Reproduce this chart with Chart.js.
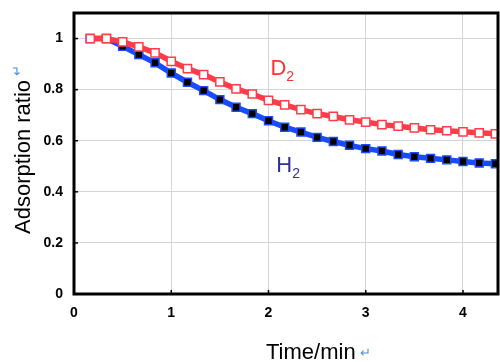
<!DOCTYPE html>
<html>
<head>
<meta charset="utf-8">
<script src="https://cdn.jsdelivr.net/npm/chart.js@4/dist/chart.umd.min.js"></script>
<style>
html,body{margin:0;padding:0;background:#fff;}
#wrap{width:500px;height:362px;position:relative;}
</style>
</head>
<body>
<div id="wrap"><canvas id="c" width="500" height="362"></canvas></div>
<script>
// Time in minutes (one sample every 10 s)
const times = [1/6,2/6,3/6,4/6,5/6,1,7/6,8/6,9/6,10/6,11/6,2,13/6,14/6,15/6,16/6,17/6,3,19/6,20/6,21/6,22/6,23/6,4,25/6,26/6];
const d2Values = [1.0,1.0,0.987,0.967,0.944,0.911,0.882,0.859,0.830,0.803,0.783,0.758,0.740,0.722,0.706,0.695,0.682,0.673,0.663,0.657,0.650,0.643,0.639,0.635,0.631,0.627];
const h2Values = [1.0,1.0,0.970,0.937,0.905,0.865,0.829,0.796,0.761,0.731,0.706,0.678,0.653,0.634,0.613,0.597,0.582,0.569,0.560,0.546,0.537,0.531,0.525,0.519,0.513,0.510];
const xTicks = [0,1,2,3,4];
const yTicks = [0,0.2,0.4,0.6,0.8,1];
const seriesLabels = ['D', 'H'];
const xTitle = 'Time/min';
const yTitle = 'Adsorption ratio';

const FONT = '"Liberation Sans", Arial, Helvetica, sans-serif';

// let the plot area run right up to the frame (no automatic point-overflow padding)
Chart.registry.getController('line').prototype.getMaxOverflow = function () { return 0; };

const pts = (vals) => vals.map((v, i) => ({x: times[i], y: v}));

const decor = {
  id: 'decor',
  afterDraw(chart) {
    const {ctx, chartArea: a, scales} = chart;
    ctx.save();
    // inner tick marks
    ctx.strokeStyle = '#000';
    ctx.lineWidth = 1.5;
    yTicks.forEach(v => {
      const y = scales.y.getPixelForValue(v);
      ctx.beginPath(); ctx.moveTo(a.left, y); ctx.lineTo(a.left + 4, y); ctx.stroke();
    });
    xTicks.forEach(v => {
      const x = scales.x.getPixelForValue(v);
      ctx.beginPath(); ctx.moveTo(x, a.bottom); ctx.lineTo(x, a.bottom - 4); ctx.stroke();
    });
    // frame
    ctx.lineWidth = 3;
    ctx.strokeRect(a.left, a.top, a.right - a.left, a.bottom - a.top);

    // series labels
    const drawSub = (main, x, y, color) => {
      ctx.fillStyle = color;
      ctx.font = '22px ' + FONT;
      ctx.textBaseline = 'alphabetic';
      ctx.textAlign = 'left';
      ctx.fillText(main, x, y);
      const w = ctx.measureText(main).width;
      ctx.font = '14px ' + FONT;
      ctx.fillText('2', x + w, y + 6);
    };
    drawSub(seriesLabels[0], scales.x.getPixelForValue(2.02), scales.y.getPixelForValue(0.857), '#ff3030');
    drawSub(seriesLabels[1], scales.x.getPixelForValue(2.08), scales.y.getPixelForValue(0.477), '#2e3192');

    // x title
    ctx.fillStyle = '#000';
    ctx.font = '22px ' + FONT;
    ctx.textAlign = 'left';
    ctx.textBaseline = 'alphabetic';
    ctx.fillText(xTitle, 266, 359);
    const xw = ctx.measureText(xTitle).width;
    ctx.fillStyle = '#4a90e2';
    ctx.font = '13px ' + FONT;
    ctx.fillText('\u21B5', 266 + xw + 4, 357);

    // y title
    ctx.save();
    ctx.translate(30, 234);
    ctx.rotate(-Math.PI / 2);
    ctx.fillStyle = '#000';
    ctx.font = '22px ' + FONT;
    ctx.fillText(yTitle, 0, 0);
    const yw = ctx.measureText(yTitle).width;
    ctx.fillStyle = '#4a90e2';
    ctx.font = '13px ' + FONT;
    ctx.fillText('\u21B5', yw + 4, -9);
    ctx.restore();

    ctx.restore();
  }
};

new Chart(document.getElementById('c'), {
  type: 'line',
  data: {
    datasets: [
      {
        label: 'D2',
        data: pts(d2Values),
        borderColor: '#ff3c4a',
        borderWidth: 5.5,
        pointStyle: 'rect',
        pointRadius: 5.8,
        pointBackgroundColor: '#ffffff',
        pointBorderColor: '#ff3c4a',
        pointBorderWidth: 1.5,
        tension: 0
      },
      {
        label: 'H2',
        data: pts(h2Values),
        borderColor: '#1a4cff',
        borderWidth: 5.5,
        pointStyle: 'rect',
        pointRadius: 5.6,
        pointBackgroundColor: '#000000',
        pointBorderColor: '#1a4cff',
        pointBorderWidth: 1.5,
        tension: 0
      }
    ]
  },
  options: {
    responsive: false,
    animation: false,
    layout: {padding: {top: 13, right: 2, left: 0, bottom: 0}},
    plugins: {legend: {display: false}, tooltip: {enabled: false}},
    scales: {
      x: {
        type: 'linear',
        min: 0, max: 4.36,
        afterFit(s) { s.height = 68; s.paddingLeft = 0; s.paddingRight = 0; },
        afterBuildTicks(s) { s.ticks = xTicks.map(v => ({value: v})); },
        grid: {color: '#d4d4d4', lineWidth: 1, drawTicks: false},
        border: {display: false},
        ticks: {
          padding: 11,
          color: '#000',
          font: {family: FONT, size: 14, weight: 'bold'},
          callback: v => String(v)
        }
      },
      y: {
        min: 0, max: 1.1,
        afterFit(s) { s.width = 74; s.paddingTop = 0; s.paddingBottom = 0; },
        afterBuildTicks(s) { s.ticks = yTicks.map(v => ({value: v})); },
        grid: {color: '#d4d4d4', lineWidth: 1, drawTicks: false},
        border: {display: false},
        ticks: {
          padding: 11,
          color: '#000',
          font: {family: FONT, size: 14, weight: 'bold'},
          callback: v => (v === 0 || v === 1) ? String(v) : v.toFixed(1)
        }
      }
    }
  },
  plugins: [decor]
});
</script>
</body>
</html>
